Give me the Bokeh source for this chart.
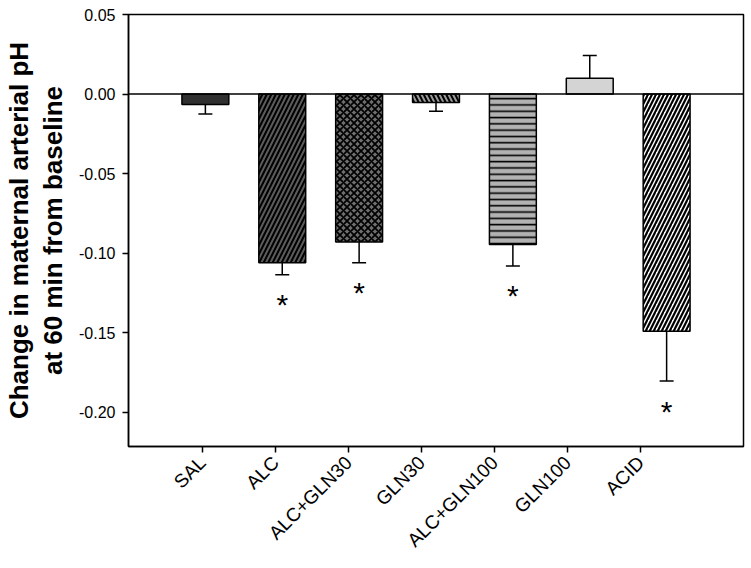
import math
from bokeh.plotting import figure
from bokeh.models import ColumnDataSource, Range1d, FixedTicker, Span
from bokeh.core.properties import value
from bokeh.embed import file_html
from bokeh.resources import INLINE

# ---- data ----
categories = ["SAL", "ALC", "ALC+GLN30", "GLN30", "ALC+GLN100", "GLN100", "ACID"]
means = [-0.0065, -0.1060, -0.0930, -0.0053, -0.0945, 0.0100, -0.1490]
errors = [0.0060, 0.0075, 0.0130, 0.0055, 0.0135, 0.0143, 0.0313]
significant = [False, True, True, False, True, False, True]
y_ticks = [0.05, 0.00, -0.05, -0.10, -0.15, -0.20]

# ---- styles ----
fills = ["#303030", "#5c5c5c", "#6e6e6e", "#9a9a9a", "#b2b2b2", "#d4d4d4", "#ffffff"]
hatches = [" ", "/", "x", "\\", "-", " ", "/"]
hatch_scales = [6, 9, 7, 9, 6.3, 6, 8]
hatch_weights = [1, 2, 1.8, 2, 1.6, 1, 2.2]

FONT = "Liberation Sans"

xs = list(range(len(categories)))
ends = [m + (e if m > 0 else -e) for m, e in zip(means, errors)]

src = ColumnDataSource(dict(
    x=xs, top=means, end=ends, fill=fills, hatch=hatches,
    hs=hatch_scales, hw=hatch_weights,
))

p = figure(
    width=745, height=560, output_backend="svg", toolbar_location=None,
    x_range=Range1d(-1, 7), y_range=Range1d(-0.2214, 0.05),
    min_border_left=126, min_border_top=14, min_border_right=4, min_border_bottom=114,
    frame_width=615, frame_height=432,
)
p.background_fill_color = "white"
p.border_fill_color = "white"
p.outline_line_color = "black"
p.outline_line_width = 1.5
p.xgrid.visible = False
p.ygrid.visible = False

p.vbar(x="x", top="top", bottom=0, width=0.61, source=src,
       fill_color="fill", line_color="black", line_width=1.5,
       hatch_pattern="hatch", hatch_color="black", hatch_scale="hs",
       hatch_weight="hw")

p.add_layout(Span(location=0, dimension="width", line_color="black", line_width=1.5))

# error bars (one-sided)
p.segment(x0="x", x1="x", y0="top", y1="end", source=src, line_color="black", line_width=1.5)
p.scatter(x="x", y="end", source=src, marker="dash", size=14, line_color="black", line_width=1.5)

# significance asterisks
sx = [x for x, s in zip(xs, significant) if s]
sy = [e for e, s in zip(ends, significant) if s]
p.text(x=sx, y=sy, text=["*"] * len(sx), text_align="center", text_baseline="middle",
       y_offset=30, text_font=value(FONT), text_font_size="30px", text_color="black")

# axes
tick0, tick_step = -0.0374, 0.9502
tick_pos = [tick0 + tick_step * i for i in range(len(categories))]
p.xaxis.ticker = FixedTicker(ticks=tick_pos)
p.xaxis.major_label_overrides = {t: c for t, c in zip(tick_pos, categories)}
p.xaxis.major_label_orientation = math.pi / 4
p.yaxis.ticker = FixedTicker(ticks=y_ticks)
p.yaxis.major_label_overrides = {t: f"{t:.2f}" for t in y_ticks}

for ax in (p.xaxis[0], p.yaxis[0]):
    ax.axis_line_color = "black"
    ax.axis_line_width = 1.5
    ax.major_tick_line_color = "black"
    ax.major_tick_line_width = 1.5
    ax.major_tick_out = 6
    ax.major_tick_in = 0
    ax.minor_tick_line_color = None
    ax.major_label_text_font = FONT
    ax.major_label_text_color = "black"
    ax.major_label_standoff = 7
p.yaxis.major_label_text_font_size = "16px"
p.xaxis.major_label_text_font_size = "19px"

p.yaxis.axis_label = "Change in maternal arterial pH\nat 60 min from baseline"
p.yaxis.axis_label_text_font = FONT
p.yaxis.axis_label_text_font_style = "bold"
p.yaxis.axis_label_text_font_size = "26px"
p.yaxis.axis_label_text_color = "black"
p.yaxis.axis_label_text_line_height = 1.15
p.yaxis.axis_label_standoff = 8

open("out.html", "w").write(file_html(p, INLINE))
